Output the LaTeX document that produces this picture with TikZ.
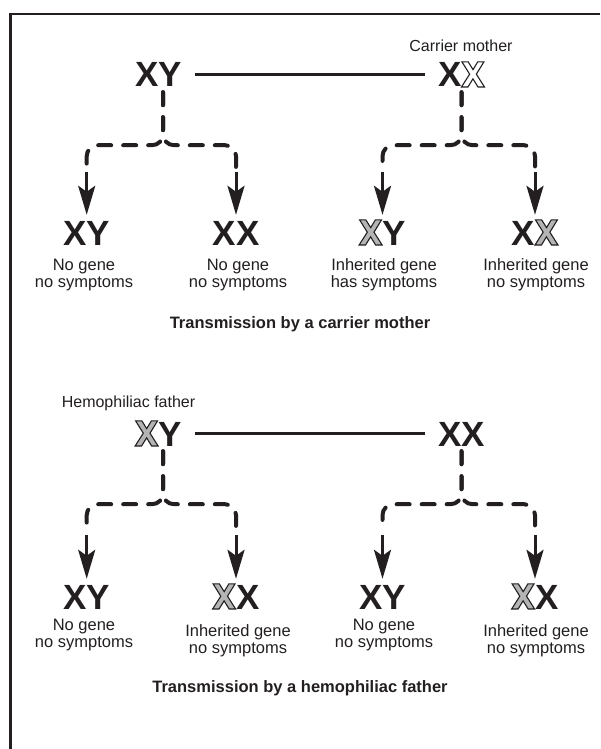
\documentclass[tikz,border=0pt]{standalone}
\usepackage{fontspec}
\setmainfont{Liberation Sans}
\usetikzlibrary{arrows.meta}
\definecolor{ink}{HTML}{231F20}
\definecolor{xgray}{HTML}{B4B4B4}
\tikzset{
  geno/.style={font=\fontsize{35}{35}\selectfont\bfseries, text=ink, inner xsep=13pt, inner ysep=5pt, text height=25pt, text depth=0pt, anchor=base},
  caption/.style={font=\fontsize{16.5}{17}\selectfont, text=ink, align=center, inner sep=0pt, anchor=base},
  tag/.style={font=\fontsize{16}{16}\selectfont, text=ink, inner sep=0pt, anchor=base},
  ttl/.style={font=\fontsize{16.5}{16}\selectfont\bfseries, text=ink, inner sep=0pt},
  mate/.style={draw=ink, line width=2.4pt},
  drop/.style={draw=ink, line width=4pt, line cap=round, dash pattern=on 13pt off 12pt, rounded corners=11pt},
  tipline/.style={draw=ink, line width=3pt, shorten <=4pt, -{Stealth[length=29pt,width=17pt,inset=6pt]}},
}
\newcommand\glyphX[3]{%
  \begin{scope}[shift={(#1.base west)}, xshift=#2, x=0.035pt, y=0.035pt]
    \filldraw[fill=#3, draw=ink, line width=1.1pt, line join=miter]
      (20,716) -- (198,716) -- (335,496) -- (468,716) -- (644,716) -- (430,366)
      -- (662,0) -- (477,0) -- (333,233) -- (189,0) -- (5,0) -- (238,366) -- cycle;
  \end{scope}}
\begin{document}
\begin{tikzpicture}[x=1pt,y=-1pt]
\useasboundingbox (0,0) rectangle (600,749);
\fill[white] (0,0) rectangle (600,749);
\draw[ink, line width=2.5pt] (10.5,749) -- (10.5,14) -- (600,14);

% ---------- top: carrier mother ----------
\node[geno] (f1) at (158.5,87) {XY};
\node[geno] (m1) at (461.5,87) {X\phantom{X}};
\glyphX{m1}{36.35pt}{white}
\node[tag] (m1t) at (461,52) {Carrier mother};
\draw[mate] (f1) -- (m1);

\node[geno] (c11) at (86.7,245) {XY};
\node[geno] (c12) at (236,245) {XX};
\node[geno] (c13) at (382.5,245) {\phantom{X}Y};
\glyphX{c13}{13pt}{xgray}
\node[geno] (c14) at (535,245) {X\phantom{X}};
\glyphX{c14}{36.35pt}{xgray}

\node[caption] (t11) at (84,287) {No gene\\no symptoms};
\node[caption] (t12) at (238,287) {No gene\\no symptoms};
\node[caption] (t13) at (384,287) {Inherited gene\\has symptoms};
\node[caption] (t14) at (536,287) {Inherited gene\\no symptoms};

\coordinate (k11) at (86.7,168);
\coordinate (k12) at (236,168);
\coordinate (k13) at (382.5,168);
\coordinate (k14) at (535,168);
\draw[drop] ([xshift=4.5pt]f1.south) -- ++(0,53) -| (k11);
\draw[drop] ([xshift=4.5pt]f1.south) -- ++(0,53) -| (k12);
\draw[drop] (m1.south) -- ++(0,53) -| (k13);
\draw[drop] (m1.south) -- ++(0,53) -| (k14);
\draw[tipline] (k11) -- (c11.north);
\draw[tipline] (k12) -- (c12.north);
\draw[tipline] (k13) -- (c13.north);
\draw[tipline] (k14) -- (c14.north);

\node[ttl] (T1) at (300,324) {Transmission by a carrier mother};

% ---------- bottom: hemophiliac father ----------
\node[geno] (f2) at (158.5,446) {\phantom{X}Y};
\glyphX{f2}{13pt}{xgray}
\node[geno] (m2) at (461.5,446) {XX};
\node[tag] (f2t) at (128.5,407) {Hemophiliac father};
\draw[mate] (f2) -- (m2);

\node[geno] (c21) at (86.7,609) {XY};
\node[geno] (c22) at (236,609) {\phantom{X}X};
\glyphX{c22}{13pt}{xgray}
\node[geno] (c23) at (382.5,609) {XY};
\node[geno] (c24) at (535,609) {\phantom{X}X};
\glyphX{c24}{13pt}{xgray}

\node[caption] (t21) at (84,647) {No gene\\no symptoms};
\node[caption] (t22) at (238,653) {Inherited gene\\no symptoms};
\node[caption] (t23) at (384,647) {No gene\\no symptoms};
\node[caption] (t24) at (536,653) {Inherited gene\\no symptoms};

\coordinate (k21) at (86.7,531);
\coordinate (k22) at (236,531);
\coordinate (k23) at (382.5,531);
\coordinate (k24) at (535,531);
\draw[drop] ([xshift=4.5pt]f2.south) -- ++(0,53) -| (k21);
\draw[drop] ([xshift=4.5pt]f2.south) -- ++(0,53) -| (k22);
\draw[drop] (m2.south) -- ++(0,53) -| (k23);
\draw[drop] (m2.south) -- ++(0,53) -| (k24);
\draw[tipline] (k21) -- (c21.north);
\draw[tipline] (k22) -- (c22.north);
\draw[tipline] (k23) -- (c23.north);
\draw[tipline] (k24) -- (c24.north);

\node[ttl] (T2) at (300,688) {Transmission by a hemophiliac father};
\end{tikzpicture}
\end{document}
